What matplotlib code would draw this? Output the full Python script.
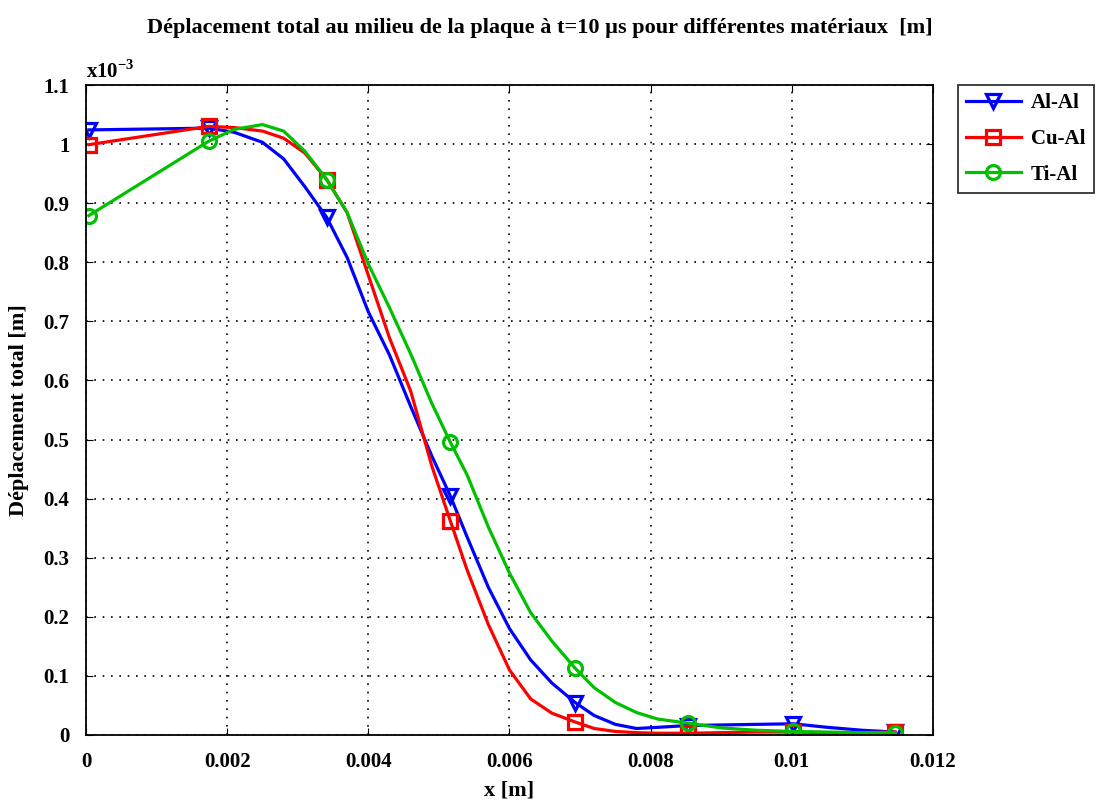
import matplotlib
matplotlib.use("Agg")
import matplotlib.pyplot as plt

x = [0.00004, 0.00174, 0.0021, 0.0025, 0.0028, 0.0031, 0.00341, 0.0037, 0.0040,
     0.0043, 0.0046, 0.0049, 0.00516, 0.0054, 0.0057, 0.0060, 0.0063, 0.0066,
     0.00693, 0.0072, 0.0075, 0.0078, 0.0081, 0.00853, 0.0090, 0.0095, 0.01002,
     0.0105, 0.0110, 0.01146]

al_al = [1.024, 1.027, 1.020, 1.003, 0.975, 0.928, 0.876, 0.808, 0.716,
         0.643, 0.556, 0.472, 0.405, 0.335, 0.250, 0.180, 0.127, 0.088,
         0.055, 0.033, 0.018, 0.011, 0.013, 0.016, 0.017, 0.018, 0.019,
         0.013, 0.008, 0.005]

cu_al = [0.999, 1.030, 1.028, 1.022, 1.010, 0.985, 0.940, 0.884, 0.778,
         0.672, 0.582, 0.455, 0.363, 0.279, 0.187, 0.110, 0.061, 0.037,
         0.022, 0.011, 0.006, 0.004, 0.003, 0.003, 0.004, 0.005, 0.005,
         0.004, 0.004, 0.005]

ti_al = [0.879, 1.005, 1.025, 1.033, 1.022, 0.988, 0.940, 0.884, 0.797,
         0.723, 0.645, 0.561, 0.496, 0.440, 0.352, 0.274, 0.207, 0.159,
         0.113, 0.080, 0.055, 0.038, 0.027, 0.020, 0.012, 0.008, 0.006,
         0.005, 0.004, 0.004]

marker_idx = [0, 1, 6, 12, 18, 23, 26, 29]

xticks = [0, 0.002, 0.004, 0.006, 0.008, 0.01, 0.012]
xticklabels = ["0", "0.002", "0.004", "0.006", "0.008", "0.01", "0.012"]
yticks = [0, 0.1, 0.2, 0.3, 0.4, 0.5, 0.6, 0.7, 0.8, 0.9, 1, 1.1]
yticklabels = ["0", "0.1", "0.2", "0.3", "0.4", "0.5", "0.6", "0.7", "0.8", "0.9", "1", "1.1"]

plt.rcParams['font.family'] = ['Liberation Serif', 'DejaVu Serif']
plt.rcParams['font.weight'] = 'bold'
plt.rcParams['mathtext.fontset'] = 'custom'
plt.rcParams['mathtext.rm'] = 'Liberation Serif:bold'
plt.rcParams['mathtext.bf'] = 'Liberation Serif:bold'

W, H = 1102, 805
fig = plt.figure(figsize=(W / 100, H / 100), dpi=100)
L, R, T, B = 86, 933, 85, 735
ax = fig.add_axes([L / W, 1 - B / H, (R - L) / W, (B - T) / H])

kw = dict(lw=2.3, markersize=10, markerfacecolor='none', markeredgewidth=2.3, markevery=marker_idx)
ax.plot(x, al_al, color='#0000ff', marker='v', label='Al-Al', **kw)
ax.plot(x, cu_al, color='#ff0000', marker='s', label='Cu-Al', **kw)
ax.plot(x, ti_al, color='#00c000', marker='o', label='Ti-Al', **kw)

ax.set_xlim(0, 0.012)
ax.set_ylim(0, 1.1)
ax.set_xticks(xticks)
ax.set_xticklabels(xticklabels)
ax.set_yticks(yticks)
ax.set_yticklabels(yticklabels)
ax.tick_params(direction='in', top=True, right=True, labelsize=15, length=5)
ax.tick_params(axis='x', pad=12)
ax.tick_params(axis='y', pad=12)
for lab in ax.get_xticklabels() + ax.get_yticklabels():
    lab.set_fontweight('bold')
ax.grid(True, color='black', linestyle=(0, (1, 4)), linewidth=1.2)
for s in ax.spines.values():
    s.set_linewidth(1.3)

ax.set_xlabel('x [m]', fontsize=16, fontweight='bold', labelpad=6)
ax.set_ylabel('Déplacement total [m]', fontsize=16, fontweight='bold', labelpad=10)
fig.text(540 / W, 1 - 28 / H,
         'Déplacement total au milieu de la plaque à t=10 µs pour différentes matériaux  [m]',
         fontsize=16, fontweight='bold', ha='center', va='center')
ax.text(0.0, 1.003, r'x10$^{-3}$', transform=ax.transAxes, fontsize=15,
        fontweight='bold', ha='left', va='bottom')

leg = ax.legend(loc='upper left', bbox_to_anchor=(958 / W, 1 - 85 / H), bbox_transform=fig.transFigure,
                fontsize=15, frameon=True, fancybox=False, edgecolor='black',
                handlelength=2.6, borderpad=0.4, labelspacing=0.75, handletextpad=0.5,
                borderaxespad=0)
leg.get_frame().set_linewidth(1.3)
for t in leg.get_texts():
    t.set_fontweight('bold')

fig.savefig('out.png', dpi=100)
